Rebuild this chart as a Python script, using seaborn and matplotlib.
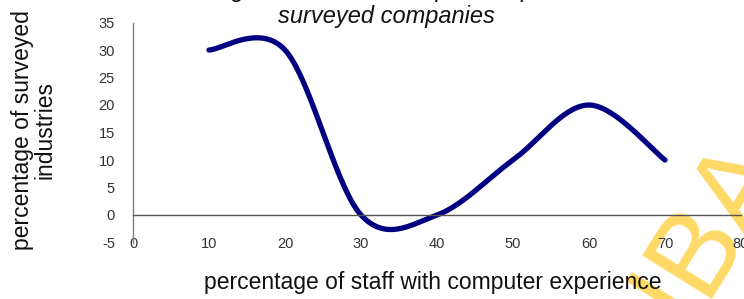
import numpy as np
import pandas as pd
import matplotlib
matplotlib.use("Agg")
import matplotlib.pyplot as plt
import seaborn as sns

# Data
staff_pct = [10, 20, 30, 40, 50, 60, 70]
industry_pct = [30, 30, 0, 0, 10, 20, 10]
x_ticks = [0, 10, 20, 30, 40, 50, 60, 70, 80]
y_ticks = [-5, 0, 5, 10, 15, 20, 25, 30, 35]
title_line1 = "Percentage of staff with computer experience in"
title_line2 = "surveyed companies"
x_label = "percentage of staff with computer experience"
y_label = "percentage of surveyed\nindustries"


def excel_smooth(xs, ys, n=60):
    P = np.column_stack([xs, ys]).astype(float)
    pts = []
    m = len(P)
    for i in range(m - 1):
        p0 = P[i - 1] if i > 0 else P[i]
        p1 = P[i]
        p2 = P[i + 1]
        p3 = P[i + 2] if i + 2 < m else P[i + 1]
        c1 = p1 + (p2 - p0) / 6.0
        c2 = p2 - (p3 - p1) / 6.0
        t = np.linspace(0, 1, n, endpoint=(i == m - 2))[:, None]
        b = ((1 - t) ** 3) * p1 + 3 * ((1 - t) ** 2) * t * c1 + 3 * (1 - t) * t ** 2 * c2 + t ** 3 * p2
        pts.append(b)
    return np.vstack(pts)


sns.set_theme(style="white")
plt.rcParams["font.family"] = ["Liberation Sans", "DejaVu Sans"]
plt.rcParams["axes.unicode_minus"] = False

fig = plt.figure(figsize=(7.44, 2.99), dpi=100)
ax = fig.add_axes([133 / 744, 56.5 / 299, 608 / 744, 220 / 299])

curve = excel_smooth(staff_pct, industry_pct)
df = pd.DataFrame({"x": curve[:, 0], "y": curve[:, 1]})
sns.lineplot(data=df, x="x", y="y", sort=False, color="#000080",
             linewidth=3.8, ax=ax, solid_capstyle="round", estimator=None)

ax.set_xlim(0, 80)
ax.set_ylim(-5, 35)
ax.set_xticks(x_ticks)
ax.set_yticks(y_ticks)
ax.set_xlabel("")
ax.set_ylabel("")
ax.grid(False)
for s in ["top", "right"]:
    ax.spines[s].set_visible(False)
ax.spines["bottom"].set_position(("data", 0))
ax.spines["bottom"].set_color("#555555")
ax.spines["left"].set_color("#808080")
ax.spines["bottom"].set_linewidth(1.0)
ax.spines["left"].set_linewidth(1.0)
ax.tick_params(axis="x", direction="out", length=4, width=0.8, color="#333333",
               pad=12, labelsize=10.5, labelcolor="#333333")
ax.tick_params(axis="y", direction="out", length=5, width=0.8, color="#808080",
               pad=8, labelsize=10.5, labelcolor="#333333")
ax.set_zorder(1)
ax.patch.set_alpha(0)

fig.text(0.52, 1.0 + 10 / 299, title_line1, ha="center", va="center",
         fontsize=17, style="italic", color="#111111")
fig.text(0.52, 1 - 17 / 299, title_line2, ha="center", va="center",
         fontsize=17, style="italic", color="#111111")
fig.text(0.581, 1 - 283 / 299, x_label, ha="center", va="center",
         fontsize=16.5, color="#111111")
fig.text(34 / 744, 1 - 130 / 299, y_label, ha="center", va="center",
         rotation=90, fontsize=16.5, color="#111111", linespacing=0.95,
         multialignment="center")

fig.text(710 / 744, 1 - 228 / 299, "IBA", ha="center", va="center", rotation=58,
         fontsize=85, color="#FFC000", alpha=0.6, zorder=0)

fig.savefig("out.png", dpi=100)
